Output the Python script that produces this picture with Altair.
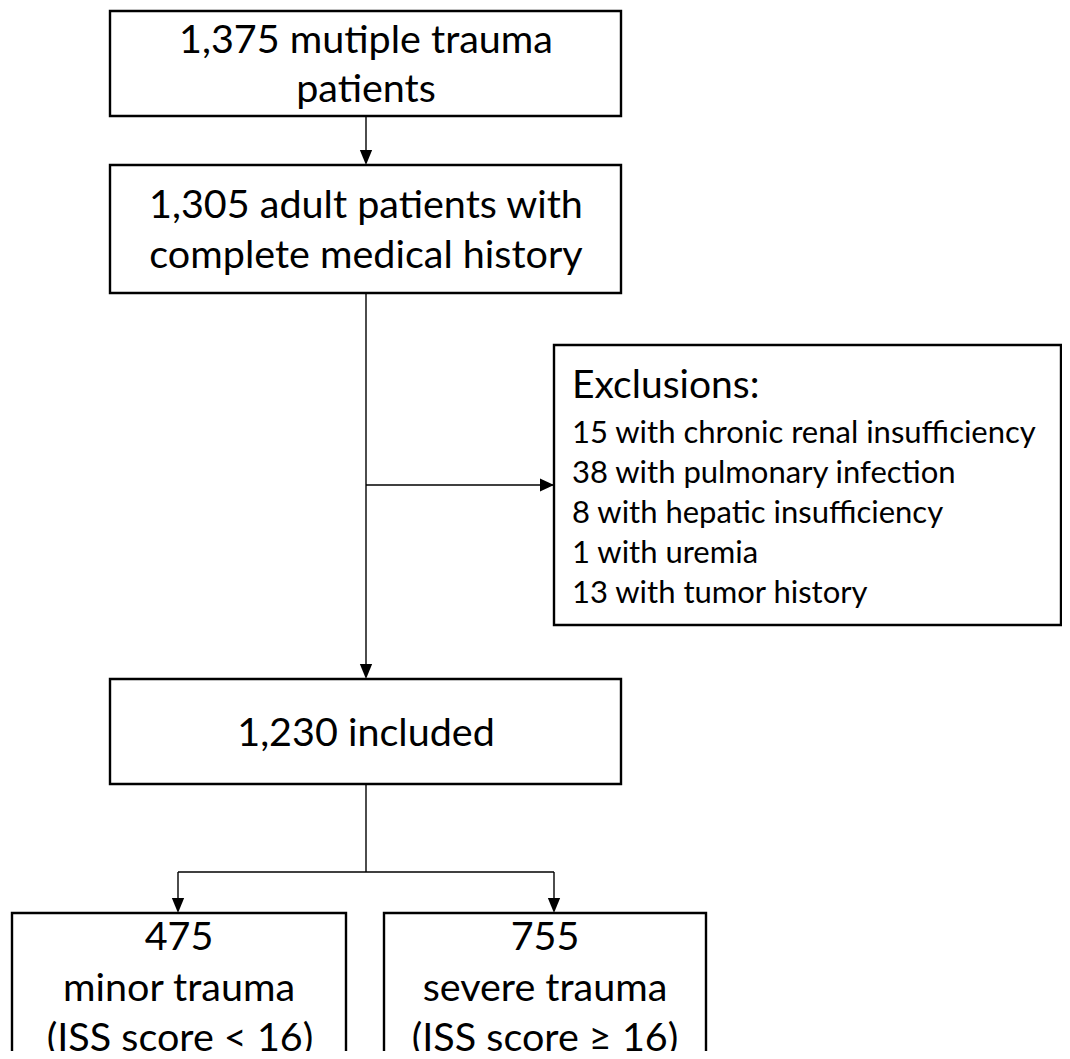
import altair as alt
import pandas as pd

# ---------------- content ----------------
# Boxes of the flow diagram (image pixel coordinates: left, right, top, bottom)
box_names = ["screened", "adult", "exclusions", "included", "minor", "severe"]
box_left = [110, 110, 554, 110, 12, 384]
box_right = [621, 621, 1061, 621, 346, 706]
box_top = [11, 165, 345, 679, 913, 913]
box_bottom = [116, 293, 625, 784, 1090, 1090]

# Text lines inside the boxes
line_text = [
    "1,375 mutiple trauma", "patients",
    "1,305 adult patients with", "complete medical history",
    "Exclusions:",
    "15 with chronic renal insufficiency",
    "38 with pulmonary infection",
    "8 with hepatic insufficiency",
    "1 with uremia",
    "13 with tumor history",
    "1,230 included",
    "475", "minor trauma", "(ISS score < 16)",
    "755", "severe trauma", "(ISS score \u2265 16)",
]
line_x = [366, 366, 366, 366, 572, 572, 572, 572, 572, 572, 366,
          179, 179, 180, 545, 545, 545]
line_baseline = [53, 102, 218, 268, 398, 443, 483, 523, 563, 603, 746,
                 950, 1001, 1051, 950, 1001, 1051]
line_size = [39.5, 39.5, 39.5, 39.5, 39, 31, 31, 31, 31, 31, 39.5,
             39.5, 39.5, 39.5, 39.5, 39.5, 39.5]
line_align = ["center"] * 4 + ["left"] * 6 + ["center"] * 7

# Connector segments (x1, y1) -> (x2, y2)
seg_x1 = [366, 366, 366, 366, 178, 178, 554]
seg_y1 = [116, 293, 485, 784, 872, 872, 872]
seg_x2 = [366, 366, 554, 366, 554, 178, 554]
seg_y2 = [160, 670, 485, 872, 872, 905, 905]

# Arrow tips and their direction
arrow_tip_x = [366, 366, 178, 554, 554]
arrow_tip_y = [165, 679, 913, 913, 485]
arrow_dir = ["down", "down", "down", "down", "right"]

# ---------------- layout ----------------
W, H = 1054, 1043
X0, Y0 = 8, 8
xs = alt.Scale(domain=[X0, X0 + W], nice=False, zero=False)
ys = alt.Scale(domain=[Y0, Y0 + H], nice=False, zero=False, reverse=True)

boxes = pd.DataFrame({"name": box_names, "x": box_left, "x2": box_right,
                      "y": box_top, "y2": box_bottom})
lines = pd.DataFrame({"text": line_text, "x": line_x, "y": line_baseline,
                      "size": line_size, "al": line_align})
segs = pd.DataFrame({"x": seg_x1, "y": seg_y1, "x2": seg_x2, "y2": seg_y2})

ARROW_DOWN = 15   # arrow head length (px)
ARROW_RIGHT = 14
arr = pd.DataFrame({"tx": arrow_tip_x, "ty": arrow_tip_y, "d": arrow_dir})
arr["cx"] = [tx - (ARROW_RIGHT / 2 if d == "right" else 0) for tx, d in zip(arr["tx"], arr["d"])]
arr["cy"] = [ty - (ARROW_DOWN / 2 if d == "down" else 0) for ty, d in zip(arr["ty"], arr["d"])]

base_x = dict(scale=xs, axis=None)
base_y = dict(scale=ys, axis=None)

rules = alt.Chart(segs).mark_rule(color="black", strokeWidth=1.4).encode(
    x=alt.X("x:Q", **base_x), x2="x2:Q",
    y=alt.Y("y:Q", **base_y), y2="y2:Q",
)

rects = alt.Chart(boxes).mark_rect(
    fill="white", stroke="black", strokeWidth=2.4, clip=True
).encode(
    x=alt.X("x:Q", **base_x), x2="x2:Q",
    y=alt.Y("y:Q", **base_y), y2="y2:Q",
)

down = alt.Chart(arr[arr["d"] == "down"]).mark_point(
    shape="M-0.82,-1L0.82,-1L0,1Z", filled=True, color="black",
    opacity=1, size=ARROW_DOWN ** 2, strokeWidth=0,
).encode(x=alt.X("cx:Q", **base_x), y=alt.Y("cy:Q", **base_y))

right = alt.Chart(arr[arr["d"] == "right"]).mark_point(
    shape="M-1,-0.93L1,0L-1,0.93Z", filled=True, color="black",
    opacity=1, size=ARROW_RIGHT ** 2, strokeWidth=0,
).encode(x=alt.X("cx:Q", **base_x), y=alt.Y("cy:Q", **base_y))

texts = []
for al in ["center", "left"]:
    sub = lines[lines["al"] == al]
    texts.append(
        alt.Chart(sub).mark_text(
            font="Lato", baseline="alphabetic", align=al, color="black"
        ).encode(
            x=alt.X("x:Q", **base_x), y=alt.Y("y:Q", **base_y),
            text="text:N",
            size=alt.Size("size:Q", scale=None, legend=None),
        )
    )

chart = alt.layer(rules, rects, down, right, *texts).properties(
    width=W, height=H, padding=0, autosize="none", background="white"
).configure_view(stroke=None)

chart.save("out.html", embed_options={"renderer": "svg", "actions": False})
